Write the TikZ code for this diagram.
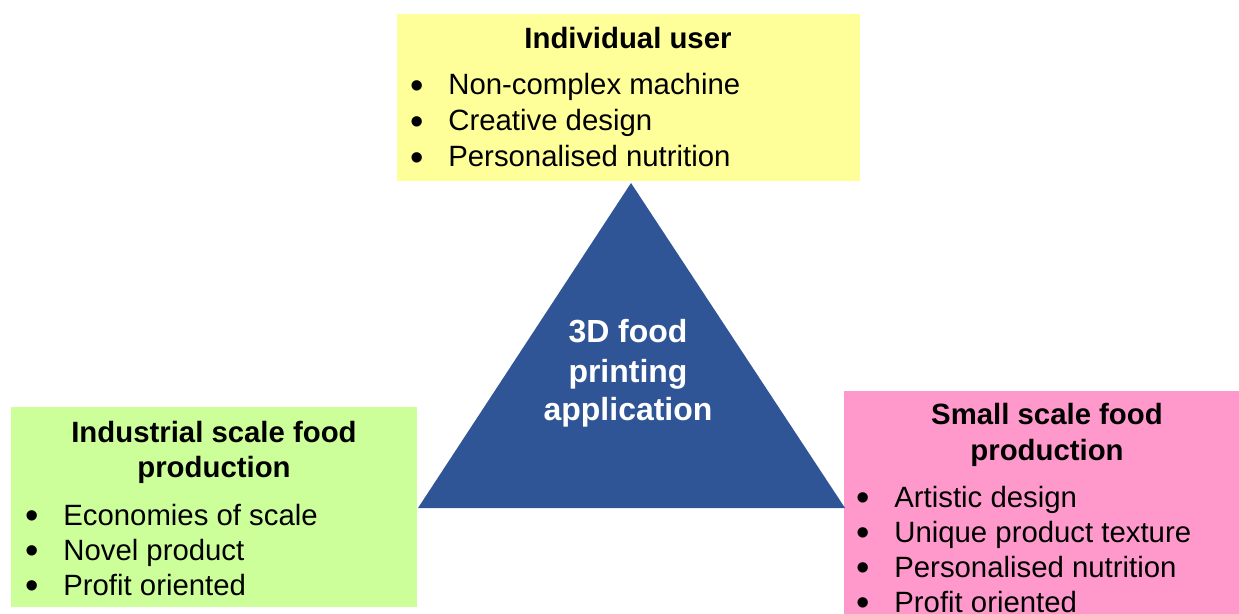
\documentclass[tikz,border=0pt]{standalone}
\usepackage{graphicx}
\usepackage{fontspec}
\setmainfont{Liberation Sans}

\definecolor{userYellow}{HTML}{FFFF99}
\definecolor{industryGreen}{HTML}{CCFF99}
\definecolor{smallPink}{HTML}{FF99CC}
\definecolor{printBlue}{HTML}{2F5597}

\newcommand{\bul}{\makebox[0.76cm][l]{\raisebox{-1.8pt}{\scalebox{1.3}{\textbullet}}}}

\begin{document}
\begin{tikzpicture}[
    x=0.02cm, y=-0.02cm,
    box/.style={rectangle,draw=none,inner sep=0pt,anchor=north west},
    heading/.style={anchor=base,inner sep=0pt,font=\fontsize{16.7}{20}\selectfont\bfseries},
    entry/.style={anchor=base west,inner sep=0pt,font=\fontsize{16.7}{20}\selectfont},
    centre/.style={anchor=base,inner sep=0pt,text=white,font=\fontsize{18.2}{22}\selectfont\bfseries},
]
\useasboundingbox (0,0) rectangle (1239,614);

%%%
% the three coloured boxes
\node[box,fill=userYellow,minimum width=9.26cm,minimum height=3.34cm] (user) at (397,14) {};
\node[box,fill=industryGreen,minimum width=8.12cm,minimum height=4cm] (industry) at (11,407) {};
\node[box,fill=smallPink,minimum width=7.9cm,minimum height=4.46cm] (small) at (844,391) {};

%%%
% triangle in the middle
\coordinate (apex) at (631,183);
\coordinate (baseL) at (418,508);
\coordinate (baseR) at (845,508);
\fill[printBlue] (apex) -- (baseR) -- (baseL) -- cycle;
\node[centre] (c1) at (628,343) {3D food};
\node[centre] (c2) at (628,382) {printing};
\node[centre] (c3) at (628,420) {application};

%%%
% Individual user
\node[heading] (userT) at (628,49) {Individual user};
\foreach \t [count=\i] in {Non-complex machine,Creative design,Personalised nutrition}
    \node[entry] (user-\i) at (410,{95+36*(\i-1)}) {\bul\t};

%%%
% Industrial scale
\node[heading] (indT1) at (214,442) {Industrial scale food};
\node[heading] (indT2) at (214,477) {production};
\foreach \t [count=\i] in {Economies of scale,Novel product,Profit oriented}
    \node[entry] (ind-\i) at (25,{525+35*(\i-1)}) {\bul\t};

%%%
% Small scale
\node[heading] (smlT1) at (1047,424) {Small scale food};
\node[heading] (smlT2) at (1047,460) {production};
\foreach \t [count=\i] in {Artistic design,Unique product texture,Personalised nutrition,Profit oriented}
    \node[entry] (sml-\i) at (856,{507+35*(\i-1)}) {\bul\t};

\end{tikzpicture}
\end{document}
